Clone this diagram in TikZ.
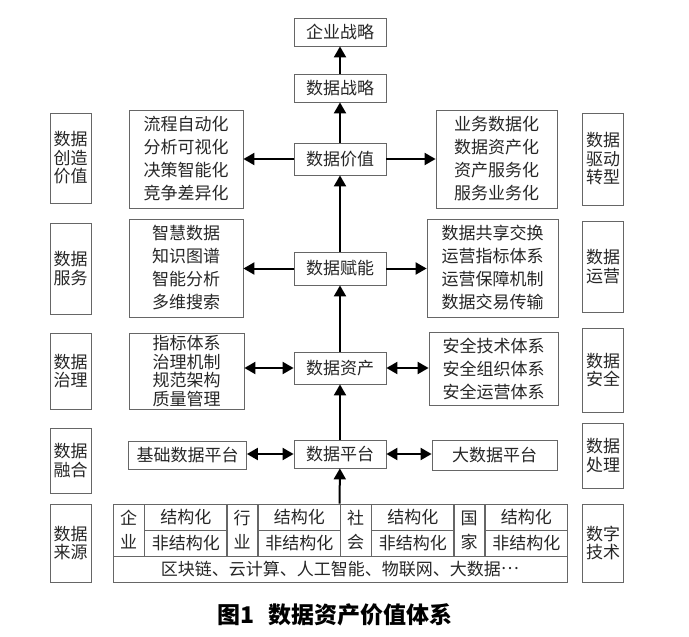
\documentclass[tikz,border=0pt]{standalone}
\usepackage{fontspec}
\newfontfamily\cjk{Noto Sans CJK SC}
\usetikzlibrary{arrows.meta}

\begin{document}
\begin{tikzpicture}[x=1pt,y=-1pt,
    box/.style={draw=black!60, line width=0.8pt, inner sep=0pt, align=center, text=black!85,
      font={\cjk\fontsize{17pt}{23pt}\selectfont}},
    mid/.style={box, minimum width=92pt, minimum height=30pt},
    side/.style={box, minimum width=41pt, font={\cjk\fontsize{17pt}{18.5pt}\selectfont}},
    cell/.style={box, minimum width=82.5pt, minimum height=26pt},
    arr/.style={-{Triangle[length=11pt,width=12pt]}, line width=2pt},
    darr/.style={{Triangle[length=11pt,width=12pt]}-{Triangle[length=11pt,width=12pt]}, line width=2pt}]

  \useasboundingbox (0,0) rectangle (689,637);

  % middle column
  \node[mid, minimum height=28pt] (ent) at (340,32) {企业战略};
  \node[mid, minimum height=28pt] (dstr) at (340,88) {数据战略};
  \node[mid, minimum height=32pt] (val) at (340,159) {数据价值};
  \node[mid, minimum height=33pt] (enab) at (340,268.5) {数据赋能};
  \node[mid, minimum height=32pt] (asset) at (340,368) {数据资产};
  \node[mid, minimum height=28pt] (plat) at (340,454) {数据平台};

  % left and right boxes
  \node[box, minimum width=114pt, minimum height=98pt] (valL) at (186,159)
    {流程自动化\\分析可视化\\决策智能化\\竞争差异化};
  \node[box, minimum width=121pt, minimum height=98pt] (valR) at (496.5,159)
    {业务数据化\\数据资产化\\资产服务化\\服务业务化};
  \node[box, minimum width=114pt, minimum height=98pt] (servL) at (186,268)
    {智慧数据\\知识图谱\\智能分析\\多维搜索};
  \node[box, minimum width=131pt, minimum height=98pt] (servR) at (492.5,268)
    {数据共享交换\\运营指标体系\\运营保障机制\\数据交易传输};
  \node[box, minimum width=115pt, minimum height=76pt,
    font={\cjk\fontsize{17pt}{18.5pt}\selectfont}] (govL) at (186.5,371)
    {指标体系\\治理机制\\规范架构\\质量管理};
  \node[box, minimum width=129pt, minimum height=73pt] (govR) at (493.5,368.5)
    {安全技术体系\\安全组织体系\\安全运营体系};
  \node[box, minimum width=118pt, minimum height=28pt] (baseL) at (187.5,455) {基础数据平台};
  \node[box, minimum width=125pt, minimum height=30pt] (bigR) at (494.5,455) {大数据平台};

  % side labels
  \node[side, minimum height=90pt] (l1) at (70.5,158) {数据\\创造\\价值};
  \node[side, minimum height=91pt] (l2) at (70.5,268.5) {数据\\服务};
  \node[side, minimum height=76pt] (l3) at (70.5,371) {数据\\治理};
  \node[side, minimum height=65pt] (l4) at (70.5,460.5) {数据\\融合};
  \node[side, minimum height=78pt] (l5) at (70.5,543) {数据\\来源};
  \node[side, minimum height=92pt] (r1) at (603,159) {数据\\驱动\\转型};
  \node[side, minimum height=91pt] (r2) at (603,266.5) {数据\\运营};
  \node[side, minimum height=84pt] (r3) at (603,370) {数据\\安全};
  \node[side, minimum height=65pt] (r4) at (603,455.5) {数据\\处理};
  \node[side, minimum height=78pt] (r5) at (603,543) {数字\\技术};

  % data sources table
  \foreach \a/\b [count=\i from 0] in {企/业,行/业,社/会,国/家} {
    \node[box, minimum width=31pt, minimum height=52pt,
      font={\cjk\fontsize{17pt}{24pt}\selectfont}] (grp\i) at (128.5+113.5*\i,530) {\a\\\b};
    \node[cell] (st\i) at (185.75+113.5*\i,517) {结构化};
    \node[cell] (ust\i) at (185.75+113.5*\i,543) {非结构化};
    }
  \node[box, minimum width=454pt, minimum height=26pt] (tech) at (340,569)
    {区块链、云计算、人工智能、物联网、大数据\raisebox{0.33em}{…}};

  % arrows
  \draw[arr] (grp2.north west) -- (plat);
  \draw[arr] (plat) -- (asset);
  \draw[arr] (asset) -- (enab);
  \draw[arr] (enab) -- (val);
  \draw[arr] (val) -- (dstr);
  \draw[arr] (dstr) -- (ent);
  \draw[arr] (val.west) -- (valL.east |- val.west);
  \draw[arr] (val.east) -- (valR.west |- val.east);
  \draw[arr] (enab.west) -- (servL.east |- enab.west);
  \draw[arr] (enab.east) -- (servR.west |- enab.east);
  \draw[darr] (asset.west) -- (govL.east |- asset.west);
  \draw[darr] (asset.east) -- (govR.west |- asset.east);
  \draw[darr] (plat.west) -- (baseL.east |- plat.west);
  \draw[darr] (plat.east) -- (bigR.west |- plat.east);

  \node[font={\cjk\bfseries\fontsize{23pt}{23pt}\selectfont}] (cap) at (335,615)
    {图1\hspace{0.6em}数据资产价值体系};
\end{tikzpicture}
\end{document}
